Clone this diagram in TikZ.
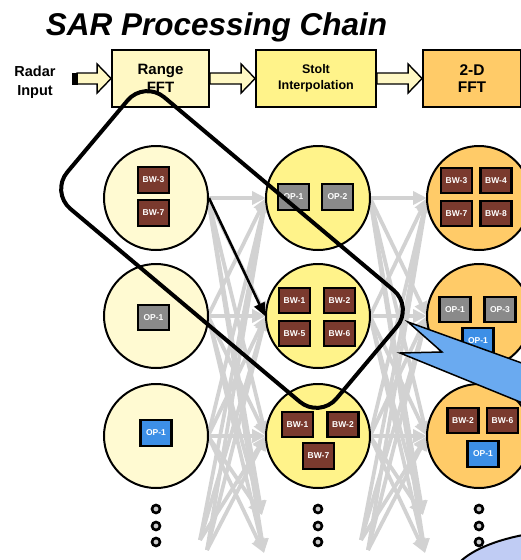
\documentclass[tikz,border=0pt]{standalone}
\usepackage{fontspec}
\setmainfont{Liberation Sans}
\usetikzlibrary{arrows.meta,calc}
\definecolor{pale}{HTML}{FFFAD2}
\definecolor{palebox}{HTML}{FFF8C4}
\definecolor{yel}{HTML}{FFF38A}
\definecolor{org}{HTML}{FFCB68}
\definecolor{bwc}{HTML}{7A3A2E}
\definecolor{opc}{HTML}{8A8A8A}
\definecolor{blc}{HTML}{3D8FE6}
\definecolor{callc}{HTML}{6AAAF0}
\definecolor{lav}{HTML}{C0CCF4}
\definecolor{garr}{HTML}{D2D2D2}
\newcommand\blockarr[2]{\draw[blockarrow] let \p1=(#1), \p2=(#2) in
  (\x1,\y1-5.5pt) -- (\x2-14pt,\y1-5.5pt) -- (\x2-14pt,\y1-14.5pt) -- (\x2,\y1) --
  (\x2-14pt,\y1+14.5pt) -- (\x2-14pt,\y1+5.5pt) -- (\x1,\y1+5.5pt) -- cycle;}
\begin{document}
\begin{tikzpicture}[x=1pt,y=-1pt,
  stage/.style={draw=black,line width=1.8pt,minimum height=57pt,inner sep=0pt,align=center},
  cell/.style={circle,draw=black,line width=2pt,minimum size=104pt,inner sep=0pt},
  mini/.style={draw=black,line width=2.2pt,minimum width=31pt,minimum height=25.5pt,inner sep=0pt,text=white,font=\fontsize{8.5}{9}\selectfont\bfseries},
  bw/.style={mini,fill=bwc},
  op/.style={mini,fill=opc},
  bl/.style={mini,fill=blc},
  garrow/.style={draw=garr,line width=3.8pt,-{Triangle[length=14pt,width=13pt]}},
  barrow/.style={draw=black,line width=2.5pt,-{Triangle[length=13pt,width=11pt]}},
  blockarrow/.style={draw=black,line width=1.4pt,fill=palebox},
  dotc/.style={circle,draw=black,line width=2.6pt,fill=gray!40,minimum size=8pt,inner sep=0pt}
]
\useasboundingbox (0,0) rectangle (521,560);
\clip (0,0) rectangle (521,560);

% title
\node[anchor=base,font=\fontsize{31.5}{36}\selectfont\bfseries\itshape] (title) at (216.5,35) {SAR Processing Chain};

% stages
\node[stage,fill=palebox,minimum width=97pt,font=\fontsize{15}{18}\selectfont\bfseries] (rfft) at (160.5,78.5) {Range\\FFT};
\node[stage,fill=yel,minimum width=120pt,font=\fontsize{12.5}{16}\selectfont\bfseries] (stolt) at (316,78.5) {Stolt\\Interpolation};
\node[stage,fill=org,minimum width=98pt,font=\fontsize{15.5}{17}\selectfont\bfseries] (fft2d) at (472,78.5) {2-D\\FFT};
\node[align=center,font=\fontsize{14.5}{19}\selectfont\bfseries,inner sep=0pt] (radar) at (35,82) {Radar\\Input};

\coordinate (inp) at (77,78.5);
\blockarr{inp}{rfft.west}
\fill[black] (72,73) rectangle (77.5,85);
\blockarr{rfft.east}{stolt.west}
\blockarr{stolt.east}{fft2d.west}

% circle anchor points (centres at x=156,318,479; y=198,316,436; r=52)
\foreach \c/\x in {1/156,2/318,3/479} \foreach \r/\y in {1/198,2/316,3/436} {
  \coordinate (e\c\r) at (\x+52,\y);
  \coordinate (w\c\r) at (\x-52,\y);
}
% extra arrow ends (rows below the picture)
\coordinate (s14) at (200,540); \coordinate (s15) at (207,550);
\coordinate (t24) at (262,515); \coordinate (t25) at (264,553);
\coordinate (s24) at (361,540); \coordinate (s25) at (368,550);
\coordinate (t34) at (423,515); \coordinate (t35) at (425,553);

% gray all-to-all arrows (behind the circles)
\foreach \a in {1,2,3} {
  \foreach \b in {1,2,3} {
    \draw[garrow] (e1\a) -- (w2\b);
    \draw[garrow] (e2\a) -- (w3\b);
  }
  \draw[garrow] (e1\a) -- (t24); \draw[garrow] (e1\a) -- (t25);
  \draw[garrow] (e2\a) -- (t34); \draw[garrow] (e2\a) -- (t35);
  \draw[garrow] (s14) -- (w2\a); \draw[garrow] (s15) -- (w2\a);
  \draw[garrow] (s24) -- (w3\a); \draw[garrow] (s25) -- (w3\a);
}

% circles
\foreach \c/\x/\f in {1/156/pale,2/318/yel,3/479/org} \foreach \r/\y in {1/198,2/316,3/436} {
  \node[cell,fill=\f] (c\c\r) at (\x,\y) {};
}

% mini task boxes
\node[bw] (m111) at (153.5,180) {BW-3};
\node[bw] (m112) at (153.5,213) {BW-7};
\node[op] (m121) at (153.5,317.5) {OP-1};
\node[bl] (m131) at (156,433) {OP-1};
\node[op] (m211) at (293.5,197) {OP-1};
\node[op] (m212) at (337.5,197) {OP-2};
\node[bw] (m221) at (294.5,300.5) {BW-1};
\node[bw] (m222) at (339.5,300.5) {BW-2};
\node[bw] (m223) at (294.5,333.5) {BW-5};
\node[bw] (m224) at (339.5,333.5) {BW-6};
\node[bw] (m231) at (297.5,424.5) {BW-1};
\node[bw] (m232) at (343,424.5) {BW-2};
\node[bw] (m233) at (318.5,456) {BW-7};
\node[bw] (m311) at (456.5,180.5) {BW-3};
\node[bw] (m312) at (496,180.5) {BW-4};
\node[bw] (m313) at (456.5,213.5) {BW-7};
\node[bw] (m314) at (496,213.5) {BW-8};
\node[op] (m321) at (455,309.5) {OP-1};
\node[op] (m322) at (500,309.5) {OP-3};
\node[bl] (m323) at (478,341) {OP-1};
\node[bw] (m331) at (463,420.5) {BW-2};
\node[bw] (m332) at (502.5,420.5) {BW-6};
\node[bl] (m333) at (483,454) {OP-1};

% continuation dots
\foreach \c/\x in {1/156,2/318,3/479} \foreach \k/\y in {1/509,2/526,3/542} {
  \node[dotc] (d\c\k) at (\x,\y) {};
}

% black arrow
\draw[barrow] (c11.east) -- (c22.west);

% rounded selection frame
\draw[line width=4pt,rounded corners=26pt] (278.9,193.7) -- (413.5,306.9) -- (319.7,418.5) -- (50.5,192.1) -- (144.3,80.5) -- cycle;

% callout
\draw[fill=callc,line width=1.5pt,line join=miter] (408,322) -- (530,366) -- (530,406) -- (400,353) -- (442,352) -- cycle;

% ellipse bottom right
\draw[fill=lav,line width=2pt] (578,582) ellipse [x radius=128, y radius=52];
\end{tikzpicture}
\end{document}
